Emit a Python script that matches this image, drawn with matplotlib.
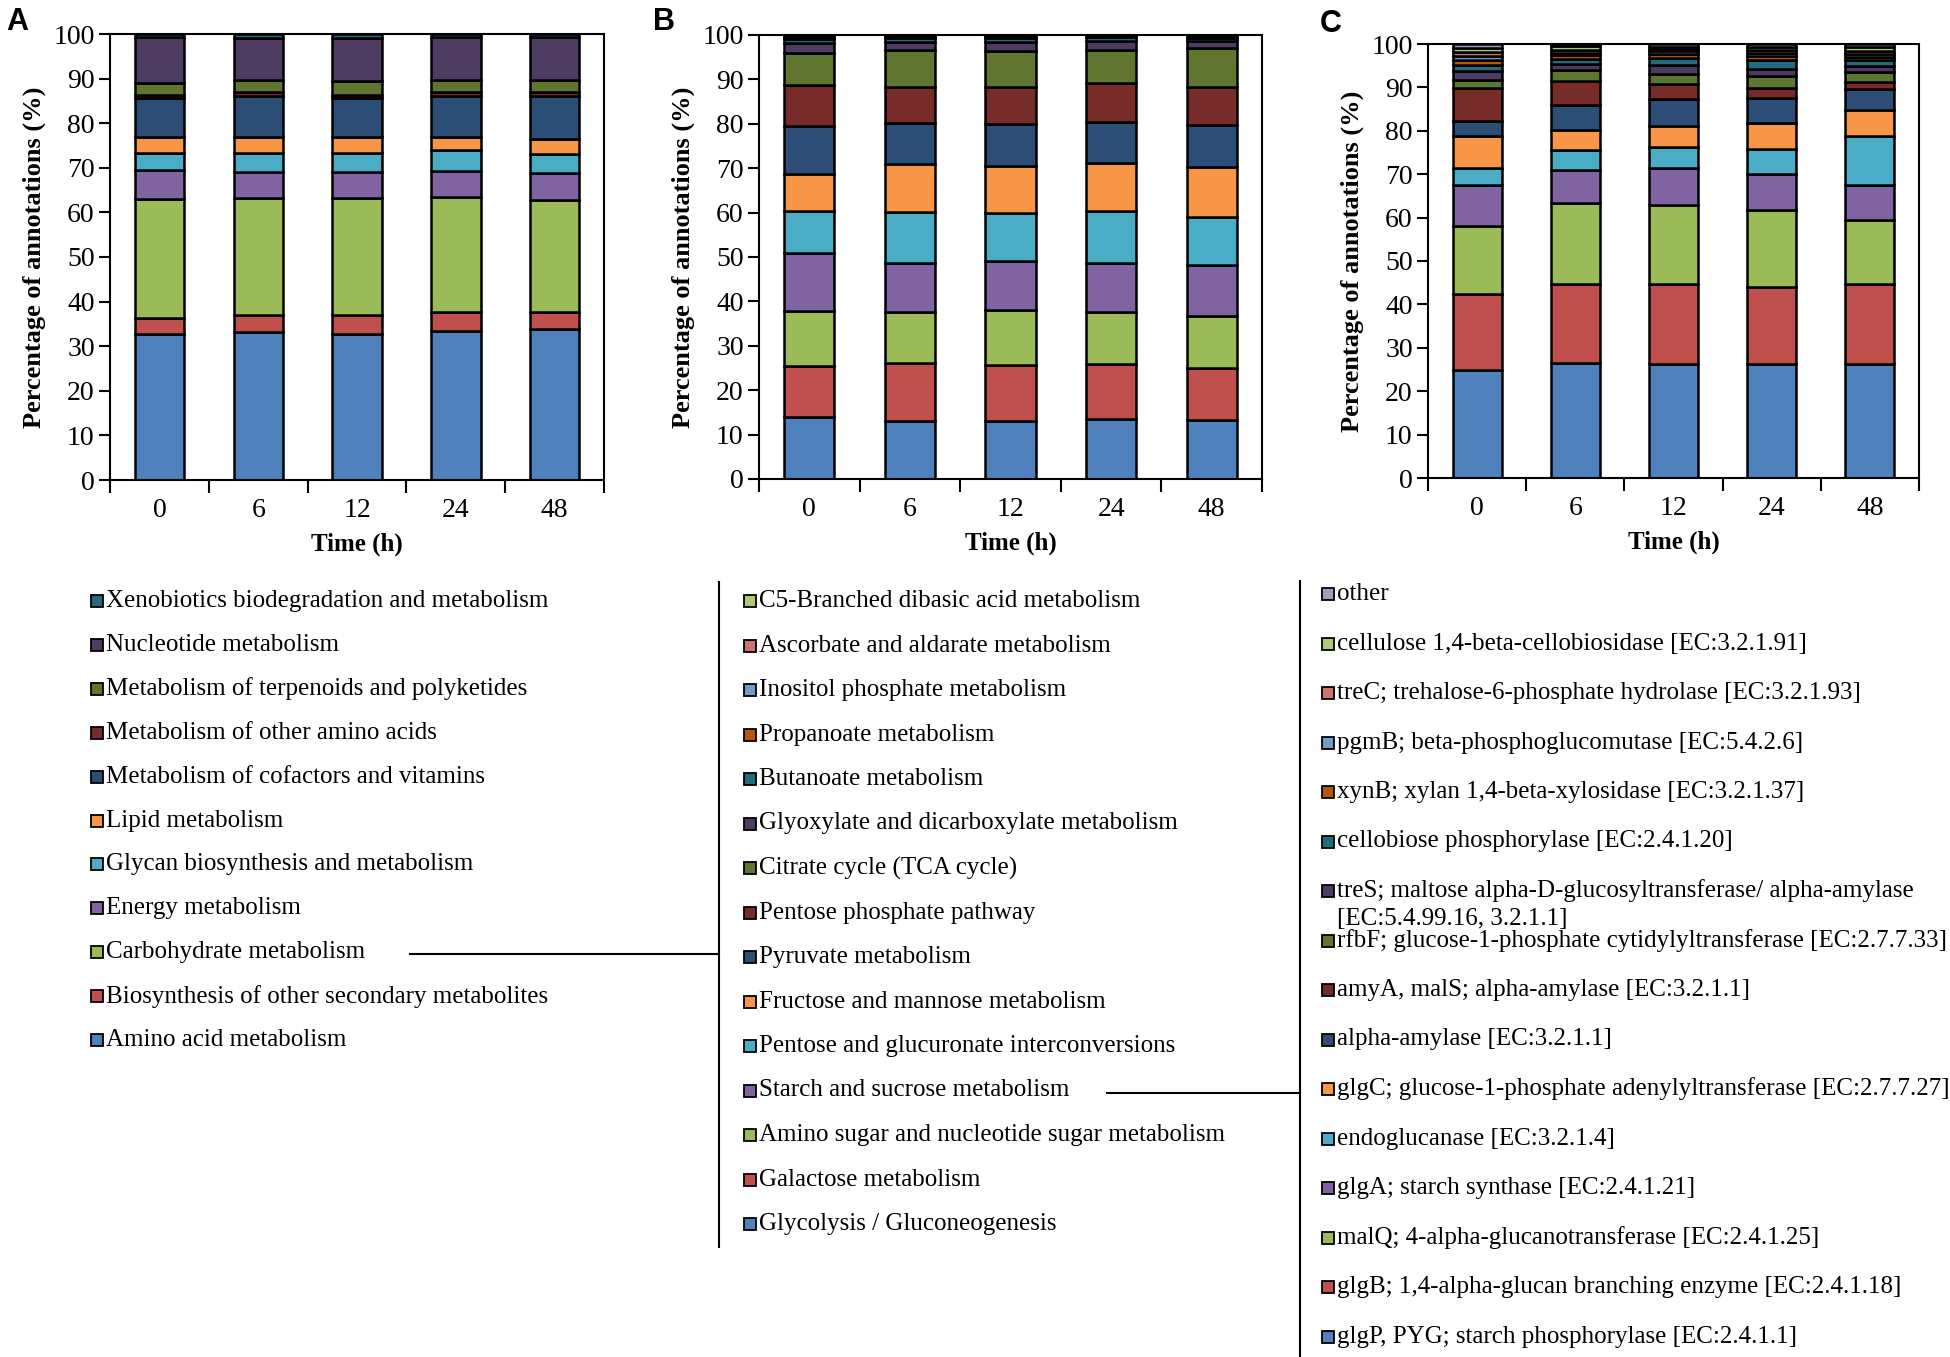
import matplotlib
matplotlib.use("Agg")
import matplotlib.pyplot as plt
from matplotlib.patches import Rectangle
import numpy as np

times = ["0", "6", "12", "24", "48"]

# ---- panel A: KEGG level 2 (bottom -> top)
a_labels = [
    "Amino acid metabolism",
    "Biosynthesis of other secondary metabolites",
    "Carbohydrate metabolism",
    "Energy metabolism",
    "Glycan biosynthesis and metabolism",
    "Lipid metabolism",
    "Metabolism of cofactors and vitamins",
    "Metabolism of other amino acids",
    "Metabolism of terpenoids and polyketides",
    "Nucleotide metabolism",
    "Xenobiotics biodegradation and metabolism",
]
amino_acid = [32.8, 33.1, 32.8, 33.4, 33.8]
secondary_metabolites = [3.5, 3.8, 4.1, 4.3, 3.9]
carbohydrate = [26.8, 26.4, 26.4, 25.8, 25.1]
energy = [6.5, 5.7, 5.7, 5.8, 6.0]
glycan = [3.7, 4.4, 4.4, 4.6, 4.3]
lipid = [3.5, 3.4, 3.4, 2.9, 3.4]
cofactors = [8.8, 9.2, 8.9, 9.2, 9.5]
other_amino_acids = [0.8, 1.0, 0.7, 1.0, 1.0]
terpenoids = [2.6, 2.6, 3.0, 2.6, 2.6]
nucleotide = [10.4, 9.6, 9.8, 9.8, 9.8]
xenobiotics = [0.6, 0.8, 0.8, 0.6, 0.6]
a_values = [amino_acid, secondary_metabolites, carbohydrate, energy, glycan, lipid,
            cofactors, other_amino_acids, terpenoids, nucleotide, xenobiotics]

# ---- panel B: carbohydrate metabolism pathways (bottom -> top)
b_labels = [
    "Glycolysis / Gluconeogenesis",
    "Galactose metabolism",
    "Amino sugar and nucleotide sugar metabolism",
    "Starch and sucrose metabolism",
    "Pentose and glucuronate interconversions",
    "Fructose and mannose metabolism",
    "Pyruvate metabolism",
    "Pentose phosphate pathway",
    "Citrate cycle (TCA cycle)",
    "Glyoxylate and dicarboxylate metabolism",
    "Butanoate metabolism",
    "Propanoate metabolism",
    "Inositol phosphate metabolism",
    "Ascorbate and aldarate metabolism",
    "C5-Branched dibasic acid metabolism",
]
glycolysis = [13.9, 13.1, 13.1, 13.5, 13.2]
galactose = [11.6, 13.0, 12.6, 12.4, 11.9]
amino_sugar = [12.3, 11.5, 12.3, 11.8, 11.6]
starch_sucrose = [13.1, 11.0, 11.0, 10.9, 11.6]
pentose_glucuronate = [9.5, 11.6, 11.0, 11.8, 10.6]
fructose_mannose = [8.3, 10.7, 10.6, 10.8, 11.3]
pyruvate = [10.9, 9.3, 9.4, 9.1, 9.6]
pentose_phosphate = [9.2, 8.0, 8.3, 8.8, 8.5]
citrate_cycle = [7.1, 8.4, 8.1, 7.5, 8.7]
glyoxylate = [2.3, 1.8, 2.0, 2.0, 1.7]
butanoate = [0.8, 0.9, 1.0, 1.0, 0.7]
propanoate = [0.2, 0.2, 0.2, 0.1, 0.2]
inositol = [0.2, 0.2, 0.1, 0.1, 0.1]
ascorbate = [0.3, 0.2, 0.2, 0.1, 0.1]
c5_branched = [0.3, 0.1, 0.1, 0.1, 0.2]
b_values = [glycolysis, galactose, amino_sugar, starch_sucrose, pentose_glucuronate,
            fructose_mannose, pyruvate, pentose_phosphate, citrate_cycle, glyoxylate,
            butanoate, propanoate, inositol, ascorbate, c5_branched]

# ---- panel C: starch and sucrose enzymes (bottom -> top)
c_labels = [
    "glgP, PYG; starch phosphorylase [EC:2.4.1.1]",
    "glgB; 1,4-alpha-glucan branching enzyme [EC:2.4.1.18]",
    "malQ; 4-alpha-glucanotransferase [EC:2.4.1.25]",
    "glgA; starch synthase [EC:2.4.1.21]",
    "endoglucanase [EC:3.2.1.4]",
    "glgC; glucose-1-phosphate adenylyltransferase [EC:2.7.7.27]",
    "alpha-amylase [EC:3.2.1.1]",
    "amyA, malS; alpha-amylase [EC:3.2.1.1]",
    "rfbF; glucose-1-phosphate cytidylyltransferase [EC:2.7.7.33]",
    "treS; maltose alpha-D-glucosyltransferase/ alpha-amylase\n[EC:5.4.99.16, 3.2.1.1]",
    "cellobiose phosphorylase [EC:2.4.1.20]",
    "xynB; xylan 1,4-beta-xylosidase [EC:3.2.1.37]",
    "pgmB; beta-phosphoglucomutase [EC:5.4.2.6]",
    "treC; trehalose-6-phosphate hydrolase [EC:3.2.1.93]",
    "cellulose 1,4-beta-cellobiosidase [EC:3.2.1.91]",
    "other",
]
glgP = [24.9, 26.6, 26.2, 26.2, 26.2]
glgB = [17.6, 18.0, 18.4, 17.9, 18.4]
malQ = [15.6, 18.8, 18.2, 17.6, 14.8]
glgA = [9.5, 7.5, 8.7, 8.4, 8.2]
endoglucanase = [3.9, 4.6, 4.7, 5.8, 11.2]
glgC = [7.2, 4.6, 4.9, 5.9, 6.1]
alpha_amylase = [3.5, 5.9, 6.3, 5.8, 4.8]
amyA = [7.7, 5.4, 3.4, 2.3, 1.5]
rfbF = [1.7, 2.5, 2.3, 2.7, 2.4]
treS = [2.1, 1.5, 2.0, 1.7, 1.3]
cellobiose_phos = [1.4, 1.2, 1.7, 2.0, 1.3]
xynB = [1.3, 0.8, 0.9, 1.0, 0.8]
pgmB = [0.9, 0.5, 0.7, 0.6, 0.7]
treC = [0.8, 0.8, 0.5, 0.7, 0.8]
cellobiosidase = [0.9, 0.8, 0.5, 0.7, 0.8]
other = [1.0, 0.5, 0.6, 0.7, 0.7]
c_values = [glgP, glgB, malQ, glgA, endoglucanase, glgC, alpha_amylase, amyA, rfbF,
            treS, cellobiose_phos, xynB, pgmB, treC, cellobiosidase, other]

palette = ["#4F81BD", "#C0504D", "#9BBB59", "#8064A2", "#4BACC6", "#F79646",
           "#2C4D75", "#772C2A", "#5F7530", "#4D3B62", "#276A7C", "#B65708",
           "#729ACA", "#CD7371", "#AFC97A", "#A99BBD"]

plt.rcParams["font.family"] = ["Liberation Serif", "DejaVu Serif"]

W, H = 1950, 1357
fig = plt.figure(figsize=(W / 100, H / 100), dpi=100)


def px_axes(left, right, top, bottom):
    return fig.add_axes([left / W, 1 - bottom / H, (right - left) / W, (bottom - top) / H])


def stacked(ax, values):
    x = np.arange(len(times))
    bottom = np.zeros(len(times))
    for i, vals in enumerate(values):
        ax.bar(x, vals, 0.5, bottom=bottom, color=palette[i],
               edgecolor="black", linewidth=1.8, zorder=2)
        bottom += np.array(vals)
    ax.set_xlim(-0.5, len(times) - 0.5)
    ax.set_ylim(0, 100)
    ax.set_yticks(range(0, 101, 10))
    ax.set_xticks(x)
    ax.set_xticklabels(times)
    ax.set_xticks(np.arange(-0.5, len(times)), minor=True)
    ax.tick_params(axis="x", which="major", length=0, pad=13, labelsize=20)
    ax.tick_params(axis="x", which="minor", length=9, width=1.5, direction="out")
    ax.tick_params(axis="y", length=8, width=1.5, direction="out", labelsize=20, pad=3)
    for sp in ax.spines.values():
        sp.set_linewidth(1.5)
    ax.set_ylabel("Percentage of annotations (%)", fontsize=19, fontweight="bold", labelpad=5)
    ax.set_xlabel("Time (h)", fontsize=18, fontweight="bold", labelpad=7)


axA = px_axes(110, 604, 34, 480)
axB = px_axes(759, 1262, 35, 479)
axC = px_axes(1428, 1919, 44, 478)
stacked(axA, a_values)
stacked(axB, b_values)
stacked(axC, c_values)

for letter, (lx, ly) in zip("ABC", [(6, 22), (653, 22), (1320, 24)]):
    fig.text(lx / W, 1 - ly / H, letter, fontsize=22, fontweight="bold",
             family="Liberation Sans", va="center", ha="left")

# overlay in pixel coordinates for the legends and connector lines
ov = fig.add_axes([0, 0, 1, 1], facecolor="none")
ov.set_xlim(0, W)
ov.set_ylim(H, 0)
ov.axis("off")


def legend_column(labels, x0, y0, step, fs, sq=12):
    items = list(reversed(range(len(labels))))
    for row, idx in enumerate(items):
        y = y0 + row * step
        ov.add_patch(Rectangle((x0, y - sq / 2), sq, sq, facecolor=palette[idx],
                               edgecolor="black", linewidth=1.3))
        parts = labels[idx].split("\n")
        ov.text(x0 + sq + 3, y, parts[0], fontsize=fs, va="center", ha="left")
        for k, extra in enumerate(parts[1:], start=1):
            ov.text(x0 + sq + 3, y + 28 * k, extra, fontsize=fs, va="center", ha="left")


legend_column(a_labels, 91, 601, 43.9, 18)
legend_column(b_labels, 744, 601, 44.5, 18)
legend_column(c_labels, 1322, 594, 49.5, 18)

# connectors: A carbohydrate -> B, B starch/sucrose -> C
ov.plot([410, 719], [954, 954], color="black", lw=1.5)
ov.plot([719, 719], [582, 1247], color="black", lw=1.5)
ov.plot([1107, 1300], [1093, 1093], color="black", lw=1.5)
ov.plot([1300, 1300], [581, 1357], color="black", lw=1.5)

fig.savefig("out.png", dpi=100)
